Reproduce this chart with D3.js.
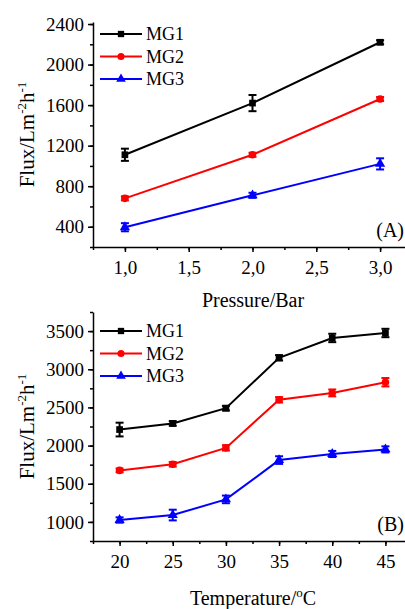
<!DOCTYPE html>
<html lang="en">
<head>
<meta charset="UTF-8">
<title>Flux</title>
<script src="https://cdn.jsdelivr.net/npm/d3@7"></script>
<style>
  body { margin: 0; background: #fff; }
  svg text { font-family: "Liberation Serif", "Times New Roman", serif !important; fill: #000; }
</style>
</head>
<body>
<script>
// panel A: pressure
var pressure = [1.0, 2.0, 3.0];
var pMG1 = [1110, 1620, 2220];
var pMG2 = [680, 1110, 1660];
var pMG3 = [395, 710, 1020];
var pErr1 = [60, 80, 20];
var pErr2 = [20, 20, 20];
var pErr3 = [40, 25, 55];
var pTicks = [1.0, 1.5, 2.0, 2.5, 3.0];
var pYTicks = [400, 800, 1200, 1600, 2000, 2400];

// panel B: temperature
var temperature = [20, 25, 30, 35, 40, 45];
var tMG1 = [2210, 2290, 2490, 3150, 3410, 3475];
var tMG2 = [1675, 1755, 1970, 2600, 2690, 2830];
var tMG3 = [1025, 1090, 1295, 1810, 1890, 1950];
var tErr1 = [90, 30, 30, 35, 55, 55];
var tErr2 = [25, 30, 35, 35, 45, 55];
var tErr3 = [35, 70, 50, 50, 40, 40];
var tTicks = [20, 25, 30, 35, 40, 45];
var tYTicks = [1000, 1500, 2000, 2500, 3000, 3500];

var names = ["MG1", "MG2", "MG3"];
var colors = ["#000000", "#ff0000", "#0000ff"];
var shapes = [d3.symbolSquare, d3.symbolCircle, d3.symbolTriangle];

var svg = d3.select("body").append("svg")
    .attr("width", 405)
    .attr("height", 609);

function panel(o) {
    var x = d3.scaleLinear().domain(o.xDomain).range([93, 412]);
    var y = d3.scaleLinear().domain(o.yDomain).range([o.bottom, o.top]);
    var g = svg.append("g");

    // minor ticks
    g.append("g")
        .attr("transform", "translate(0," + o.bottom + ")")
        .call(d3.axisBottom(x).tickValues(o.xMinor).tickSize(3).tickFormat(""))
        .call(s => s.select(".domain").remove());
    g.append("g")
        .attr("transform", "translate(93,0)")
        .call(d3.axisLeft(y).tickValues(o.yMinor).tickSize(3).tickFormat(""))
        .call(s => s.select(".domain").remove());

    var xa = g.append("g")
        .attr("transform", "translate(0," + o.bottom + ")")
        .call(d3.axisBottom(x).tickValues(o.xTicks).tickSize(5).tickPadding(9).tickFormat(o.xFmt).tickSizeOuter(0));
    var ya = g.append("g")
        .attr("transform", "translate(93,0)")
        .call(d3.axisLeft(y).tickValues(o.yTicks).tickSize(5).tickPadding(4).tickFormat(d3.format("d")).tickSizeOuter(0));
    [xa, ya].forEach(function (a) {
        a.attr("font-family", null).attr("font-size", null);
        a.selectAll("line, path").attr("stroke", "#000").attr("stroke-width", 1.5);
        a.selectAll("text").attr("font-size", 19);
    });
    g.selectAll("line").attr("stroke", "#000").attr("stroke-width", 1.5);

    o.series.forEach(function (vals, k) {
        var err = o.errs[k];
        var pts = vals.map((v, i) => [o.xs[i], v, err[i]]);
        g.append("path")
            .datum(pts)
            .attr("fill", "none")
            .attr("stroke", colors[k])
            .attr("stroke-width", 2)
            .attr("d", d3.line().x(d => x(d[0])).y(d => y(d[1])));
        var eb = g.selectAll(null).data(pts).enter().append("g").attr("stroke", colors[k]).attr("stroke-width", 2);
        eb.append("line")
            .attr("x1", d => x(d[0])).attr("x2", d => x(d[0]))
            .attr("y1", d => y(d[1] - d[2])).attr("y2", d => y(d[1] + d[2]));
        eb.append("line")
            .attr("x1", d => x(d[0]) - 4).attr("x2", d => x(d[0]) + 4)
            .attr("y1", d => y(d[1] + d[2])).attr("y2", d => y(d[1] + d[2]));
        eb.append("line")
            .attr("x1", d => x(d[0]) - 4).attr("x2", d => x(d[0]) + 4)
            .attr("y1", d => y(d[1] - d[2])).attr("y2", d => y(d[1] - d[2]));
        g.selectAll(null).data(pts).enter().append("path")
            .attr("transform", d => "translate(" + x(d[0]) + "," + y(d[1]) + ")")
            .attr("d", d3.symbol().type(shapes[k]).size(45))
            .attr("fill", colors[k]);

        // legend
        var ly = o.legendY + k * 22.5;
        g.append("line").attr("x1", 100).attr("x2", 142).attr("y1", ly).attr("y2", ly)
            .attr("stroke", colors[k]).attr("stroke-width", 2);
        g.append("path").attr("transform", "translate(121," + ly + ")")
            .attr("d", d3.symbol().type(shapes[k]).size(40)).attr("fill", colors[k]);
        g.append("text").attr("x", 146).attr("y", ly + 6).attr("font-size", 18).text(names[k]);
    });

    g.append("text").attr("x", 404).attr("y", o.bottom - 10)
        .attr("text-anchor", "end").attr("font-size", 20).text(o.tag);

    // y title
    var yt = g.append("text")
        .attr("transform", "translate(34," + (o.top + o.bottom) / 2 + ") rotate(-90)")
        .attr("text-anchor", "middle").attr("font-size", 21);
    yt.append("tspan").text("Flux/Lm");
    yt.append("tspan").attr("dy", -8).attr("font-size", 13).text("-2");
    yt.append("tspan").attr("dy", 8).text("h");
    yt.append("tspan").attr("dy", -8).attr("font-size", 13).text("-1");

    var xt = g.append("text").attr("x", 253).attr("y", o.bottom + o.titleGap)
        .attr("text-anchor", "middle").attr("font-size", 20);
    o.xTitle(xt);
}

panel({
    xs: pressure, series: [pMG1, pMG2, pMG3], errs: [pErr1, pErr2, pErr3],
    xDomain: [0.75, 3.25], yDomain: [200, 2420], top: 22, bottom: 247,
    xTicks: pTicks, xMinor: d3.range(0.75, 3.26, 0.25),
    yTicks: pYTicks, yMinor: d3.range(200, 2401, 200),
    xFmt: d => d3.format(".1f")(d).replace(".", ","),
    legendY: 34, tag: "(A)", titleGap: 60,
    xTitle: t => t.text("Pressure/Bar")
});

panel({
    xs: temperature, series: [tMG1, tMG2, tMG3], errs: [tErr1, tErr2, tErr3],
    xDomain: [17.5, 47.5], yDomain: [750, 3750], top: 312, bottom: 541,
    xTicks: tTicks, xMinor: d3.range(17.5, 47.6, 2.5),
    yTicks: tYTicks, yMinor: d3.range(750, 3751, 250),
    xFmt: d3.format("d"),
    legendY: 331, tag: "(B)", titleGap: 64,
    xTitle: function (t) {
        t.append("tspan").text("Temperature/");
        t.append("tspan").attr("dy", -8).attr("font-size", 13).text("o");
        t.append("tspan").attr("dy", 8).text("C");
    }
});
</script>
</body>
</html>
